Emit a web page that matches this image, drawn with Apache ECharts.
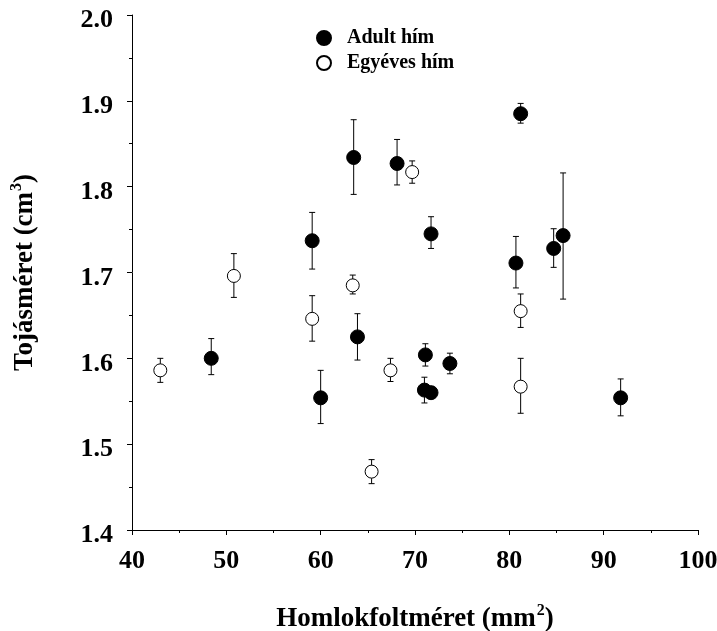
<!DOCTYPE html>
<html>
<head>
<meta charset="utf-8">
<script src="https://cdn.jsdelivr.net/npm/echarts@6/dist/echarts.min.js"></script>
<style>
  html, body { margin: 0; padding: 0; background: #fff; }
  #chart { width: 717px; height: 631px; }
</style>
</head>
<body>
<div id="chart"></div>
<script>
// Adult hím (filled circles)
const adultX  = [48.4, 59.1, 60.0, 63.5, 63.9, 68.1, 71.7, 71.1, 73.7, 71.0, 71.7, 80.7, 81.2, 84.7, 85.7, 91.8]
const adultY  = [1.600, 1.737, 1.554, 1.834, 1.625, 1.827, 1.745, 1.604, 1.594, 1.563, 1.560, 1.711, 1.885, 1.728, 1.743, 1.554]
const adultLo = [1.581, 1.704, 1.524, 1.791, 1.598, 1.802, 1.728, 1.591, 1.582, 1.548, 1.553, 1.682, 1.874, 1.706, 1.669, 1.533]
const adultHi = [1.623, 1.770, 1.586, 1.878, 1.652, 1.855, 1.765, 1.617, 1.606, 1.578, 1.567, 1.742, 1.897, 1.751, 1.816, 1.576]

// Egyéves hím (open circles)
const youngX  = [43.0, 50.8, 59.1, 63.4, 67.4, 65.4, 69.7, 81.2, 81.2]
const youngY  = [1.586, 1.696, 1.646, 1.685, 1.586, 1.468, 1.817, 1.655, 1.567]
const youngLo = [1.572, 1.671, 1.620, 1.675, 1.573, 1.454, 1.804, 1.636, 1.536]
const youngHi = [1.600, 1.722, 1.673, 1.697, 1.600, 1.482, 1.830, 1.675, 1.600]

const xTicks = [40, 100, 10]
const yTicks = [1.4, 2.0, 0.1]

const font = '"Liberation Serif", "Times New Roman", serif'

let chart = echarts.init(document.getElementById('chart'))

function points(xs, ys) {
  return xs.map((x, i) => [x, ys[i]])
}
function bars(xs, lo, hi) {
  return xs.map((x, i) => [x, lo[i], hi[i]])
}

// vertical error bar with small caps
function renderError(params, api) {
  let x = api.value(0)
  let top = api.coord([x, api.value(2)])
  let bot = api.coord([x, api.value(1)])
  let w = 3
  let st = { stroke: '#000', lineWidth: 1 }
  return {
    type: 'group',
    children: [
      { type: 'line', shape: { x1: top[0], y1: top[1], x2: bot[0], y2: bot[1] }, style: st },
      { type: 'line', shape: { x1: top[0] - w, y1: top[1], x2: top[0] + w, y2: top[1] }, style: st },
      { type: 'line', shape: { x1: bot[0] - w, y1: bot[1], x2: bot[0] + w, y2: bot[1] }, style: st }
    ]
  }
}

let supStyle = { fontFamily: font, fontWeight: 'bold', fontSize: 16, color: '#000', verticalAlign: 'top', padding: [0, 0, 16, 1] }

let option = {
  animation: false,
  backgroundColor: '#fff',
  grid: { left: 132, right: 19, top: 15, bottom: 101, outerBoundsMode: 'none' },
  legend: {
    data: ['Adult hím', 'Egyéves hím'],
    orient: 'vertical',
    left: 316,
    top: 28,
    padding: 0,
    itemWidth: 14,
    itemHeight: 14,
    itemGap: 5,
    textStyle: {
      fontFamily: font, fontWeight: 'bold', fontSize: 20, color: '#000',
      padding: [0, 0, 0, 11]
    }
  },
  xAxis: {
    type: 'value',
    min: xTicks[0], max: xTicks[1], interval: xTicks[2],
    name: 'Homlokfoltméret (mm{sup|2})',
    nameLocation: 'middle',
    nameGap: 73,
    nameTextStyle: {
      fontFamily: font, fontWeight: 'bold', fontSize: 27, color: '#000',
      rich: { sup: supStyle }
    },
    axisLine: { lineStyle: { color: '#000', width: 1 } },
    axisTick: { length: 5, lineStyle: { color: '#000' } },
    minorTick: { show: true, splitNumber: 2, length: 3, lineStyle: { color: '#000' } },
    axisLabel: { margin: 18, fontFamily: font, fontWeight: 'bold', fontSize: 26, color: '#000' },
    splitLine: { show: false }
  },
  yAxis: {
    type: 'value',
    min: yTicks[0], max: yTicks[1], interval: yTicks[2],
    name: 'Tojásméret (cm{sup|3})',
    nameLocation: 'middle',
    nameRotate: 90,
    nameGap: 91,
    nameTextStyle: {
      fontFamily: font, fontWeight: 'bold', fontSize: 27, color: '#000',
      rich: { sup: supStyle }
    },
    axisLine: { show: true, lineStyle: { color: '#000', width: 1 } },
    axisTick: { show: true, length: 5, lineStyle: { color: '#000' } },
    minorTick: { show: true, splitNumber: 2, length: 3, lineStyle: { color: '#000' } },
    axisLabel: {
      margin: 19, verticalAlign: 'top', lineHeight: 11,
      fontFamily: font, fontWeight: 'bold', fontSize: 26, color: '#000',
      formatter: v => v.toFixed(1)
    },
    splitLine: { show: false }
  },
  series: [
    {
      name: 'adultErr', type: 'custom', renderItem: renderError,
      data: bars(adultX, adultLo, adultHi), z: 1, silent: true
    },
    {
      name: 'youngErr', type: 'custom', renderItem: renderError,
      data: bars(youngX, youngLo, youngHi), z: 1, silent: true
    },
    {
      name: 'Adult hím', type: 'scatter', symbol: 'circle', symbolSize: 14,
      itemStyle: { color: '#000', borderColor: '#000', borderWidth: 1, opacity: 1 },
      data: points(adultX, adultY), z: 3
    },
    {
      name: 'Egyéves hím', type: 'scatter', symbol: 'circle', symbolSize: 13,
      itemStyle: { color: '#fff', borderColor: '#000', borderWidth: 1, opacity: 1 },
      data: points(youngX, youngY), z: 3
    }
  ]
}

chart.setOption(option)
</script>
</body>
</html>
